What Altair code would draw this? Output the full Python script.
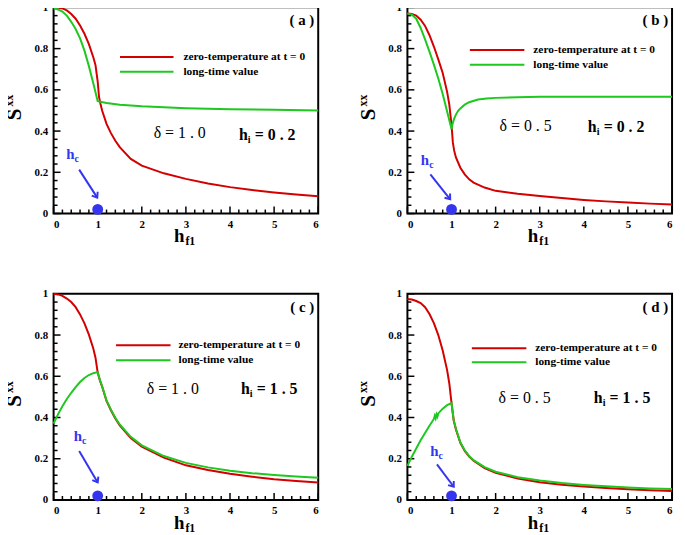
import math
import altair as alt
import pandas as pd
import numpy as np

SERIF = "Liberation Serif"
RED = "#d40000"
GREEN = "#1ec81e"
BLUE = "#3535f0"
W, H = 267, 208

LEGEND_LABELS = ["zero-temperature at t = 0", "long-time value"]

# ---------------- panel (a) : delta = 1.0, h_i = 0.2
a_red_h = [0, 0.1, 0.2, 0.3, 0.4, 0.5, 0.6, 0.7, 0.8, 0.9, 0.95, 1.0, 1.03, 1.06, 1.1, 1.2, 1.3, 1.4, 1.5, 1.75, 2.0, 2.5, 3.0, 3.5, 4.0, 4.5, 5.0, 5.5, 6.0]
a_red_s = [1.0, 0.999, 0.995, 0.985, 0.968, 0.945, 0.912, 0.872, 0.822, 0.758, 0.72, 0.64, 0.566, 0.535, 0.50, 0.435, 0.39, 0.353, 0.322, 0.265, 0.232, 0.195, 0.168, 0.146, 0.128, 0.114, 0.102, 0.092, 0.084]
a_grn_h = [0, 0.1, 0.2, 0.3, 0.4, 0.5, 0.6, 0.7, 0.8, 0.9, 1.0, 1.2, 1.5, 2.0, 2.5, 3.0, 4.0, 5.0, 6.0]
a_grn_s = [0.995, 0.99, 0.98, 0.96, 0.93, 0.895, 0.85, 0.79, 0.715, 0.632, 0.545, 0.536, 0.528, 0.52, 0.515, 0.511, 0.506, 0.503, 0.50]

# ---------------- panel (b) : delta = 0.5, h_i = 0.2
b_red_h = [0, 0.1, 0.2, 0.3, 0.4, 0.5, 0.6, 0.7, 0.8, 0.9, 0.95, 1.0, 1.03, 1.06, 1.1, 1.2, 1.3, 1.4, 1.5, 1.75, 2.0, 2.5, 3.0, 3.5, 4.0, 4.5, 5.0, 5.5, 6.0]
b_red_s = [0.97, 0.968, 0.96, 0.94, 0.91, 0.865, 0.81, 0.748, 0.682, 0.59, 0.528, 0.43, 0.345, 0.305, 0.272, 0.222, 0.19, 0.166, 0.15, 0.126, 0.11, 0.096, 0.085, 0.075, 0.066, 0.059, 0.053, 0.048, 0.044]
b_grn_h = [0, 0.1, 0.2, 0.3, 0.4, 0.5, 0.6, 0.7, 0.8, 0.9, 1.0, 1.03, 1.06, 1.1, 1.15, 1.2, 1.3, 1.4, 1.6, 1.8, 2.0, 2.5, 3.0, 4.0, 5.0, 6.0]
b_grn_s = [0.97, 0.965, 0.945, 0.9, 0.845, 0.785, 0.722, 0.655, 0.58, 0.495, 0.41, 0.44, 0.46, 0.48, 0.498, 0.51, 0.528, 0.54, 0.553, 0.558, 0.561, 0.564, 0.566, 0.567, 0.567, 0.567]

# ---------------- panel (c) : delta = 1.0, h_i = 1.5
c_red_h = [0, 0.1, 0.2, 0.3, 0.4, 0.5, 0.6, 0.7, 0.8, 0.9, 0.95, 1.0, 1.05, 1.1, 1.2, 1.3, 1.4, 1.5, 1.75, 2.0, 2.5, 3.0, 3.5, 4.0, 4.5, 5.0, 5.5, 6.0]
c_red_s = [1.0, 0.997, 0.99, 0.977, 0.96, 0.935, 0.9, 0.857, 0.802, 0.735, 0.69, 0.618, 0.58, 0.55, 0.48, 0.435, 0.395, 0.362, 0.3, 0.258, 0.205, 0.168, 0.145, 0.127, 0.113, 0.101, 0.092, 0.085]
c_grn_h = [0, 0.1, 0.2, 0.3, 0.4, 0.5, 0.6, 0.7, 0.8, 0.9, 1.0, 1.05, 1.1, 1.2, 1.3, 1.4, 1.5, 1.75, 2.0, 2.5, 3.0, 3.5, 4.0, 4.5, 5.0, 5.5, 6.0]
c_grn_s = [0.37, 0.415, 0.455, 0.49, 0.52, 0.547, 0.572, 0.592, 0.606, 0.615, 0.62, 0.582, 0.552, 0.483, 0.438, 0.399, 0.366, 0.306, 0.265, 0.213, 0.18, 0.158, 0.142, 0.13, 0.121, 0.114, 0.108]

# ---------------- panel (d) : delta = 0.5, h_i = 1.5
d_red_h = [0, 0.1, 0.2, 0.3, 0.4, 0.5, 0.6, 0.7, 0.8, 0.9, 0.95, 1.0, 1.05, 1.1, 1.2, 1.3, 1.4, 1.5, 1.75, 2.0, 2.5, 3.0, 3.5, 4.0, 4.5, 5.0, 5.5, 6.0]
d_red_s = [0.975, 0.972, 0.965, 0.955, 0.935, 0.902, 0.858, 0.8, 0.725, 0.63, 0.565, 0.47, 0.385, 0.342, 0.277, 0.238, 0.21, 0.19, 0.155, 0.132, 0.104, 0.086, 0.074, 0.065, 0.058, 0.052, 0.047, 0.043]
d_grn_h = [0, 0.1, 0.2, 0.3, 0.4, 0.5, 0.6, 0.62, 0.64, 0.66, 0.68, 0.7, 0.8, 0.9, 1.0, 1.05, 1.1, 1.2, 1.3, 1.4, 1.5, 1.75, 2.0, 2.5, 3.0, 3.5, 4.0, 4.5, 5.0, 5.5, 6.0]
d_grn_s = [0.165, 0.21, 0.25, 0.29, 0.325, 0.36, 0.393, 0.408, 0.396, 0.415, 0.404, 0.42, 0.443, 0.46, 0.47, 0.387, 0.345, 0.28, 0.241, 0.213, 0.193, 0.159, 0.137, 0.11, 0.094, 0.082, 0.073, 0.066, 0.06, 0.056, 0.053]

X_MAJOR = [0, 1, 2, 3, 4, 5, 6]
Y_MAJOR = [0, 0.2, 0.4, 0.6, 0.8, 1.0]
X_MINOR = [round(v, 2) for v in np.arange(0, 6.0001, 0.2) if abs(v - round(v)) > 1e-6]
Y_MINOR = [round(v, 2) for v in np.arange(0, 1.0001, 0.04) if abs(v / 0.2 - round(v / 0.2)) > 1e-6]

XS = alt.Scale(domain=[0, 6], nice=False, zero=False)
YS = alt.Scale(domain=[0, 1], nice=False, zero=False)
X_AXIS = alt.Axis(values=X_MAJOR, ticks=False, domain=False, grid=False, title=None,
                  labelFont=SERIF, labelFontWeight="bold", labelFontSize=11,
                  labelColor="black", labelPadding=5, format="d")
Y_AXIS = alt.Axis(values=Y_MAJOR, ticks=False, domain=False, grid=False, title=None,
                  labelFont=SERIF, labelFontWeight="bold", labelFontSize=11,
                  labelColor="black", labelPadding=6, format=".1~f")


def X(field="h"):
    return alt.X(f"{field}:Q", scale=XS, axis=X_AXIS)


def Y(field="s"):
    return alt.Y(f"{field}:Q", scale=YS, axis=Y_AXIS)


def txt(text, x, y, size, weight="bold", color="black", align="left",
        baseline="middle", angle=0):
    return alt.Chart(alt.Data(values=[{}])).mark_text(
        text=text, font=SERIF, fontSize=size, fontWeight=weight, color=color,
        align=align, baseline=baseline, angle=angle
    ).encode(x=alt.value(x), y=alt.value(y))


def panel(tag, rh, rs, gh, gs, delta, hi, lg, dpos, hpos, hc_lab, arrow):
    layers = []
    # inward ticks
    for vals, ln in ((X_MAJOR, 7), (X_MINOR, 4)):
        layers.append(alt.Chart(pd.DataFrame({"t": vals})).mark_rule(
            color="black", strokeWidth=1.5).encode(
            x=X("t"), y=alt.value(H), y2=alt.value(H - ln)))
    for vals, ln in ((Y_MAJOR, 7), (Y_MINOR, 4)):
        layers.append(alt.Chart(pd.DataFrame({"t": vals})).mark_rule(
            color="black", strokeWidth=1.5).encode(
            y=Y("t"), x=alt.value(0), x2=alt.value(ln)))
    # curves
    layers.append(alt.Chart(pd.DataFrame({"h": rh, "s": rs})).mark_line(
        color=RED, strokeWidth=2).encode(x=X(), y=Y()))
    layers.append(alt.Chart(pd.DataFrame({"h": gh, "s": gs})).mark_line(
        color=GREEN, strokeWidth=2).encode(x=X(), y=Y()))
    # legend
    x0, x1, yr, yg, tx = lg
    for label, col, yy in zip(LEGEND_LABELS, [RED, GREEN], [yr, yg]):
        layers.append(alt.Chart(alt.Data(values=[{}])).mark_rule(
            color=col, strokeWidth=2).encode(
            x=alt.value(x0), x2=alt.value(x1), y=alt.value(yy)))
        layers.append(txt(label, tx, yy, 11.5))
    # panel tag
    layers.append(txt(f"( {tag} )", 263, 13, 15, align="right"))
    # delta and h_i
    layers.append(txt(f"\u03b4 = {delta}", dpos[0], dpos[1], 16, weight="normal"))
    hx, hy = hpos
    layers.append(txt("h", hx, hy, 16))
    layers.append(txt("i", hx + 9, hy + 5, 10))
    layers.append(txt(f"= {hi}", hx + 16, hy, 16))
    # h_c marker
    hcdf = pd.DataFrame({"h": [hc_lab[0]], "s": [hc_lab[1]]})
    layers.append(alt.Chart(hcdf).mark_text(
        text="h", font=SERIF, fontSize=15, fontWeight="bold", color=BLUE,
        align="right", baseline="middle", dx=1).encode(x=X(), y=Y()))
    layers.append(alt.Chart(hcdf).mark_text(
        text="c", font=SERIF, fontSize=10, fontWeight="bold", color=BLUE,
        align="left", baseline="middle", dx=1, dy=5).encode(x=X(), y=Y()))
    (ax0, ay0), (ax1, ay1) = arrow
    layers.append(alt.Chart(pd.DataFrame({"h": [ax0, ax1], "s": [ay0, ay1]})).mark_line(
        color=BLUE, strokeWidth=2).encode(x=X(), y=Y()))
    dxp = (ax1 - ax0) * W / 6
    dyp = -(ay1 - ay0) * H
    ang = (-math.degrees(math.atan2(dxp, dyp))) % 360
    layers.append(alt.Chart(pd.DataFrame({"h": [ax1], "s": [ay1]})).mark_point(
        shape="M -0.75 -1 L 0 0 L 0.75 -1", filled=False, stroke=BLUE,
        strokeWidth=2, size=90, angle=ang, opacity=1).encode(x=X(), y=Y()))
    layers.append(alt.Chart(pd.DataFrame({"h": [1.0], "s": [0.02]})).mark_circle(
        color=BLUE, size=120, opacity=1).encode(x=X(), y=Y()))
    # axis titles
    layers.append(txt("S", -33, 108, 21, align="center", baseline="alphabetic", angle=270))
    layers.append(txt("xx", -41, 94, 12, align="center", baseline="alphabetic", angle=270))
    layers.append(txt("h", 132, H + 29, 19, align="right", baseline="alphabetic"))
    layers.append(txt("f1", 133, H + 32, 12, align="left", baseline="alphabetic"))
    return alt.layer(*layers).properties(width=W, height=H)


pa = panel("a", a_red_h, a_red_s, a_grn_h, a_grn_s, "1 . 0", "0 . 2",
           (67, 121, 50, 65, 131), (101, 127), (187, 129),
           (0.45, 0.29), ((0.58, 0.213), (0.99, 0.077)))
pb = panel("b", b_red_h, b_red_s, b_grn_h, b_grn_s, "0 . 5", "0 . 2",
           (63, 118, 43, 58, 127), (93, 120), (182, 121),
           (0.47, 0.26), ((0.52, 0.19), (0.97, 0.069)))
pc = panel("c", c_red_h, c_red_s, c_grn_h, c_grn_s, "1 . 0", "1 . 5",
           (63, 118, 52, 67, 126), (94, 96), (189, 96),
           (0.62, 0.31), ((0.58, 0.237), (1.0, 0.085)))
pd_ = panel("d", d_red_h, d_red_s, d_grn_h, d_grn_s, "0 . 5", "1 . 5",
            (65, 120, 55, 69, 129), (92, 105), (188, 105),
            (0.68, 0.237), ((0.67, 0.173), (1.05, 0.064)))

chart = alt.concat(pa, pb, pc, pd_, columns=2, bounds="flush",
                   spacing=alt.RowColnumber(row=81, column=90)).properties(
    padding={"left": -6, "top": -10, "right": 0, "bottom": 0}
).configure_view(stroke="black", strokeWidth=2)

chart.save("out.html", embed_options={"renderer": "svg", "actions": False})
